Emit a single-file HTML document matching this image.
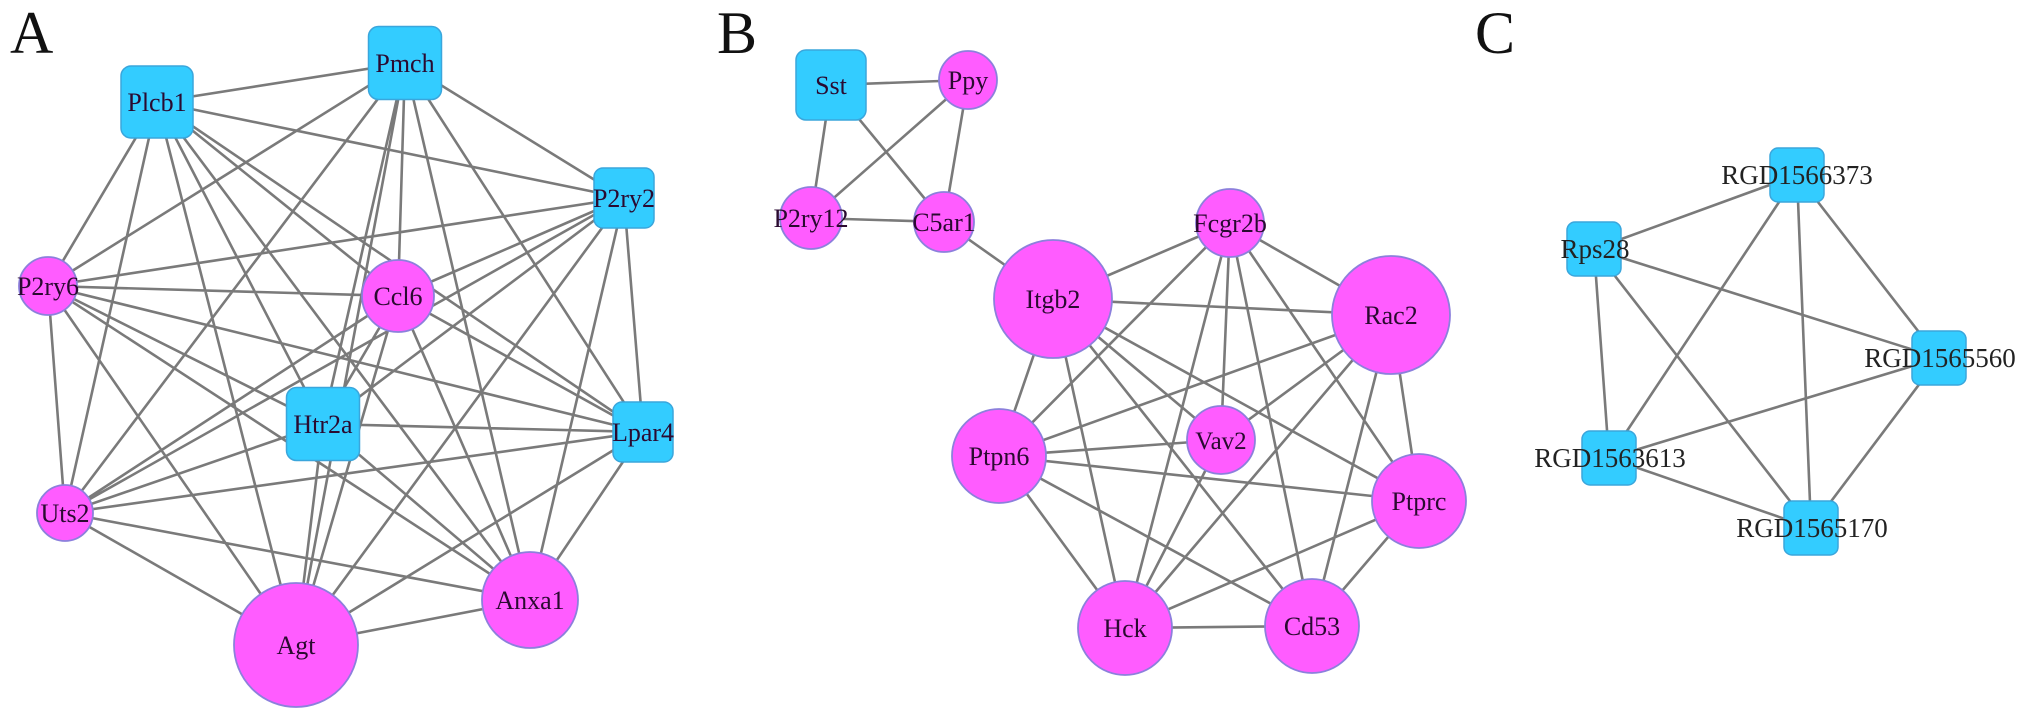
<!DOCTYPE html>
<html><head><meta charset="utf-8"><style>
html,body{margin:0;padding:0;background:#fff;}
svg{display:block;}
text{font-family:"Liberation Serif",serif;}
</style></head><body>
<svg width="2031" height="720" viewBox="0 0 2031 720" xmlns="http://www.w3.org/2000/svg">
<g stroke="#7a7a7a" stroke-width="2.6" fill="none">
<path d="M405 63L157 102M405 63L624 198M405 63L48 286M405 63L398 296M405 63L323 424M405 63L643 432M405 63L65 513M405 63L296 645M405 63L530 600
M157 102L624 198M157 102L48 286M157 102L398 296M157 102L323 424M157 102L643 432M157 102L65 513M157 102L296 645M157 102L530 600
M624 198L48 286M624 198L398 296M624 198L323 424M624 198L643 432M624 198L65 513M624 198L296 645M624 198L530 600
M48 286L398 296M48 286L323 424M48 286L643 432M48 286L65 513M48 286L296 645M48 286L530 600
M398 296L323 424M398 296L643 432M398 296L65 513M398 296L296 645M398 296L530 600
M323 424L643 432M323 424L65 513M323 424L296 645M323 424L530 600
M643 432L65 513M643 432L296 645M643 432L530 600
M65 513L296 645M65 513L530 600M296 645L530 600"/>
<path d="M831 85L968 80M831 85L811 218M831 85L944 222M968 80L811 218M968 80L944 222M811 218L944 222M944 222L1053 299
M1053 299L1230 223M1053 299L1391 315M1053 299L999 456M1053 299L1221 440M1053 299L1419 501M1053 299L1125 628M1053 299L1312 626
M1230 223L1391 315M1230 223L999 456M1230 223L1221 440M1230 223L1419 501M1230 223L1125 628M1230 223L1312 626
M1391 315L999 456M1391 315L1221 440M1391 315L1419 501M1391 315L1125 628M1391 315L1312 626
M999 456L1221 440M999 456L1419 501M999 456L1125 628M999 456L1312 626
M1221 440L1125 628
M1419 501L1125 628M1419 501L1312 626M1125 628L1312 626"/>
<path d="M1797 175L1594 249M1797 175L1939 358M1797 175L1609 458M1797 175L1811 528
M1594 249L1939 358M1594 249L1609 458M1594 249L1811 528
M1939 358L1609 458M1939 358L1811 528M1609 458L1811 528"/>
</g>
<g fill="#33ccff" stroke="#3aa6dc" stroke-width="1.5">
<rect x="368.5" y="26.5" width="73" height="73" rx="10"/>
<rect x="121" y="66" width="72" height="72" rx="10"/>
<rect x="594" y="168" width="60" height="60" rx="9"/>
<rect x="286.5" y="387.5" width="73" height="73" rx="10"/>
<rect x="613" y="402" width="60" height="60" rx="9"/>
<rect x="796" y="50" width="70" height="70" rx="10"/>
<rect x="1770" y="148" width="54" height="54" rx="8"/>
<rect x="1567" y="222" width="54" height="54" rx="8"/>
<rect x="1912" y="331" width="54" height="54" rx="8"/>
<rect x="1582" y="431" width="54" height="54" rx="8"/>
<rect x="1784" y="501" width="54" height="54" rx="8"/>
</g>
<g fill="#ff5cff" stroke="#8c80dc" stroke-width="1.8">
<circle cx="48" cy="286" r="29"/>
<circle cx="398" cy="296" r="36"/>
<circle cx="65" cy="513" r="28"/>
<circle cx="296" cy="645" r="62"/>
<circle cx="530" cy="600" r="48"/>
<circle cx="968" cy="80" r="29"/>
<circle cx="811" cy="218" r="31"/>
<circle cx="944" cy="222" r="30"/>
<circle cx="1053" cy="299" r="59"/>
<circle cx="1230" cy="223" r="34"/>
<circle cx="1391" cy="315" r="59"/>
<circle cx="999" cy="456" r="47"/>
<circle cx="1221" cy="440" r="34"/>
<circle cx="1419" cy="501" r="47"/>
<circle cx="1125" cy="628" r="47"/>
<circle cx="1312" cy="626" r="47"/>
</g>
<g font-size="60" fill="#111">
<text x="10" y="53">A</text>
<text x="717" y="53">B</text>
<text x="1475" y="53">C</text>
</g>
<g font-size="26" text-anchor="middle" fill="#2a0a30">
<text x="405" y="72">Pmch</text>
<text x="157" y="111">Plcb1</text>
<text x="624" y="207">P2ry2</text>
<text x="48" y="295">P2ry6</text>
<text x="398" y="305">Ccl6</text>
<text x="323" y="433">Htr2a</text>
<text x="643" y="441">Lpar4</text>
<text x="65" y="522">Uts2</text>
<text x="296" y="654">Agt</text>
<text x="530" y="609">Anxa1</text>
<text x="831" y="94">Sst</text>
<text x="968" y="89">Ppy</text>
<text x="811" y="227">P2ry12</text>
<text x="944" y="231">C5ar1</text>
<text x="1053" y="308">Itgb2</text>
<text x="1230" y="232">Fcgr2b</text>
<text x="1391" y="324">Rac2</text>
<text x="999" y="465">Ptpn6</text>
<text x="1221" y="449" font-family="Liberation Sans, sans-serif" font-size="25">Vav2</text>
<text x="1419" y="510">Ptprc</text>
<text x="1125" y="637">Hck</text>
<text x="1312" y="635">Cd53</text>
</g>
<g font-size="27" text-anchor="middle" fill="#222">
<text x="1797" y="184">RGD1566373</text>
<text x="1595" y="258">Rps28</text>
<text x="1940" y="367">RGD1565560</text>
<text x="1610" y="467">RGD1563613</text>
<text x="1812" y="537">RGD1565170</text>
</g>
</svg>
</body></html>
